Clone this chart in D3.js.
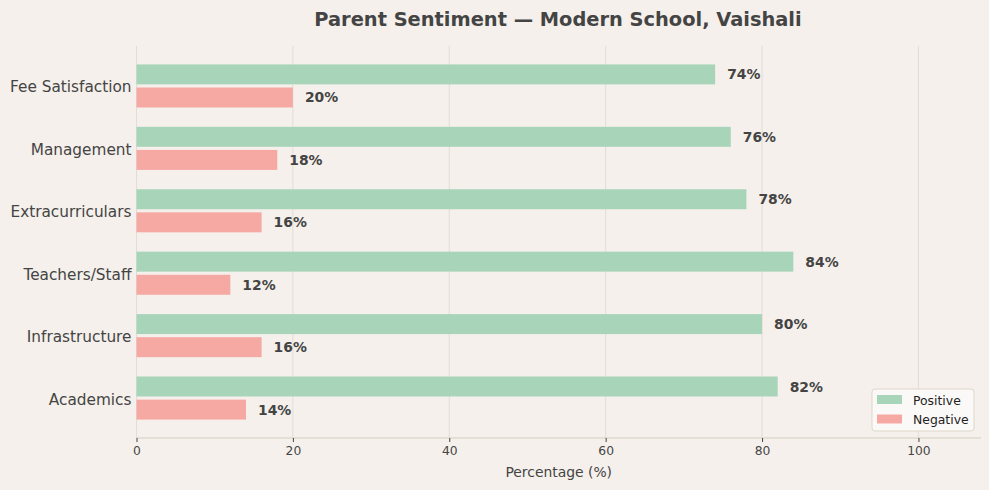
<!DOCTYPE html>
<html><head><meta charset="utf-8">
<script src="https://cdn.jsdelivr.net/npm/d3@7"></script>
<style>body{margin:0;background:#f5f0eb;} svg{display:block;font-family:"DejaVu Sans",sans-serif;}</style>
</head><body><svg id="c" width="989" height="490"></svg>
<script>
const categories = ["Fee Satisfaction","Management","Extracurriculars","Teachers/Staff","Infrastructure","Academics"];
const positive = [74,76,78,84,80,82];
const negative = [20,18,16,12,16,14];
const xTicks = [0,20,40,60,80,100];
const seriesNames = ["Positive","Negative"];
const colors = {Positive:"#a8d5ba", Negative:"#f6a8a3"};

const W=989,H=490, m={l:136.5,r:8,t:46,b:52};
const svg=d3.select("#c");
svg.append("rect").attr("width",W).attr("height",H).attr("fill","#f5f0eb");
const x=d3.scaleLinear().domain([0,108]).range([m.l,W-m.r]);
const n=categories.length;
const y=d3.scaleLinear().domain([-0.64,n-1+0.64]).range([m.t,H-m.b]);
const bh = y(0.32)-y(0), off=0.185;

const g=svg.append("g");
g.selectAll(".grid").data(xTicks).join("line")
 .attr("x1",d=>x(d)).attr("x2",d=>x(d)).attr("y1",m.t).attr("y2",H-m.b)
 .attr("stroke","#e2ddd5").attr("stroke-width",1);

const rows=categories.map((c,i)=>({c,i,p:positive[i],ng:negative[i]}));
g.selectAll(".pos").data(rows).join("rect")
 .attr("x",x(0)).attr("y",d=>y(d.i-off)-bh/2).attr("width",d=>x(d.p)-x(0)).attr("height",bh)
 .attr("fill",colors.Positive);
g.selectAll(".neg").data(rows).join("rect")
 .attr("x",x(0)).attr("y",d=>y(d.i+off)-bh/2).attr("width",d=>x(d.ng)-x(0)).attr("height",bh)
 .attr("fill",colors.Negative);
const lab=(sel)=>sel.attr("font-size",13.9).attr("font-weight","bold").attr("fill","#444").attr("dominant-baseline","central");
g.selectAll(".pl").data(rows).join("text").attr("x",d=>x(d.p)+12).attr("y",d=>y(d.i-off)).text(d=>d.p+"%").call(lab);
g.selectAll(".nl").data(rows).join("text").attr("x",d=>x(d.ng)+12).attr("y",d=>y(d.i+off)).text(d=>d.ng+"%").call(lab);

g.selectAll(".yl").data(rows).join("text").attr("x",m.l-5).attr("y",d=>y(d.i)+1.5)
 .attr("text-anchor","end").attr("dominant-baseline","central").attr("font-size",15.3).attr("fill","#444").text(d=>d.c);

const xa=svg.append("g").attr("transform",`translate(0,${H-m.b})`)
 .call(d3.axisBottom(x).tickValues(xTicks).tickSize(4).tickPadding(4));
xa.select(".domain").attr("stroke","#d6cec2").attr("d",`M${m.l},0H${W-m.r}`);
xa.selectAll(".tick line").attr("stroke","#444");
xa.selectAll(".tick text").attr("font-size",12.3).attr("fill","#444").attr("font-family","DejaVu Sans");
svg.append("text").attr("x",(m.l+W-m.r)/2).attr("y",477).attr("text-anchor","middle")
 .attr("font-size",13.9).attr("fill","#444").text("Percentage (%)");

svg.append("text").attr("x",558).attr("y",26).attr("text-anchor","middle").attr("font-size",19.4)
 .attr("font-weight","bold").attr("fill","#444").text("Parent Sentiment — Modern School, Vaishali");

const lg=svg.append("g").attr("transform","translate(872,389)");
lg.append("rect").attr("width",102).attr("height",42).attr("rx",3).attr("fill","#fbf9f7").attr("stroke","#ddd6cc");
seriesNames.forEach((s,i)=>{
 lg.append("rect").attr("x",5).attr("y",6+i*19.5).attr("width",25).attr("height",9).attr("fill",colors[s]);
 lg.append("text").attr("x",41).attr("y",11+i*19.5).attr("dominant-baseline","central").attr("font-size",12.4).attr("fill","#222").text(s);
});
</script></body></html>
